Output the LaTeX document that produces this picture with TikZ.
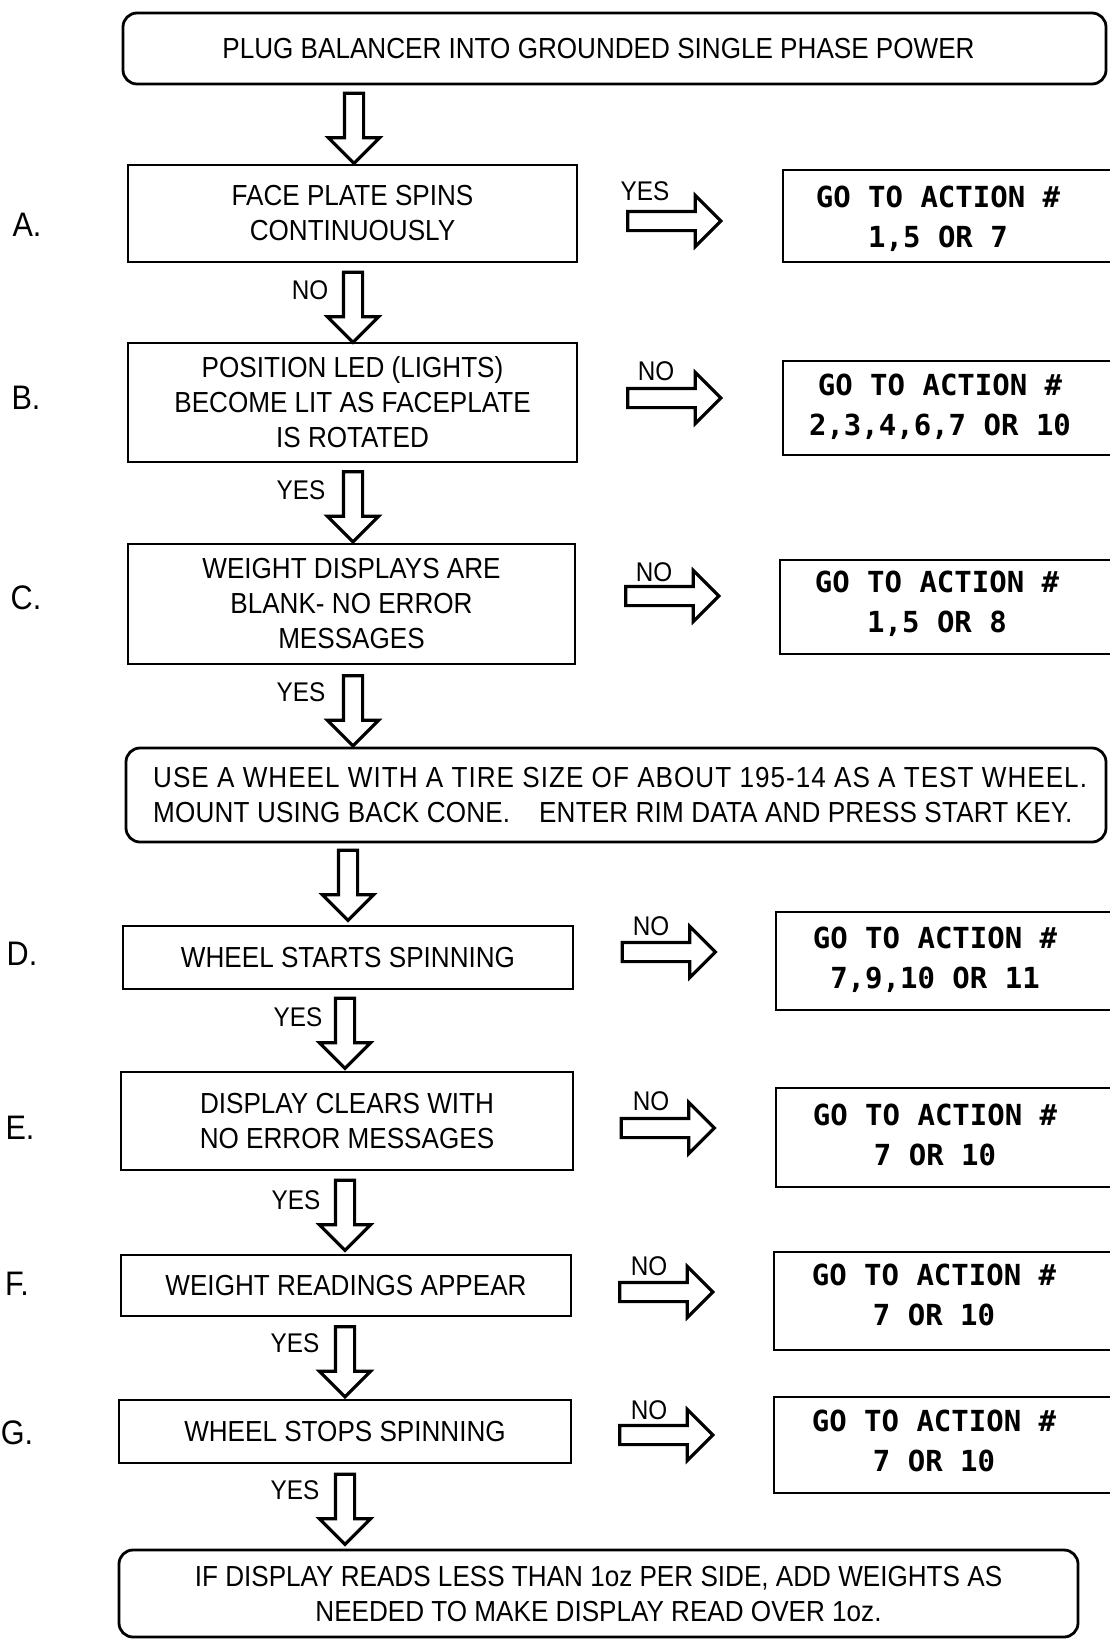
\documentclass[tikz,border=0pt]{standalone}
\usepackage{fontspec}
\setmainfont{Liberation Sans}[FakeStretch=0.9]
\newfontfamily\actfont{DejaVu Sans Mono}
\usetikzlibrary{shapes.arrows}
\begin{document}
\begin{tikzpicture}[x=1pt,y=-1pt,
  box/.style={draw, line width=2.8pt, rectangle, inner sep=0pt, align=center, font=\fontsize{29}{35}\selectfont},
  rbox/.style={box, rounded corners=14pt},
  actbox/.style={draw, line width=2.8pt, rectangle, inner sep=0pt},
  acttxt/.style={align=center, font=\actfont\bfseries\fontsize{29}{40}\selectfont, inner sep=0pt},
  plain/.style={align=left, inner sep=0pt, font=\fontsize{29}{35}\selectfont},
  blk/.style={single arrow, draw, line width=3.2pt, inner xsep=0pt, inner ysep=8pt, minimum width=49pt, single arrow head extend=16pt, single arrow head indent=0pt, minimum height=70pt},
  darr/.style={blk, rotate=-90},
  rarr/.style={blk, minimum height=93pt},
  lab/.style={font=\fontsize{27}{30}\selectfont, inner sep=0pt},
  letter/.style={font=\fontsize{34}{36}\selectfont, inner sep=0pt}
]
\useasboundingbox[fill=white] (0,0) rectangle (1109,1641);

% main column
\node[rbox, minimum width=983pt, minimum height=71pt] (top) at (614.5,48.5) {\hspace*{-32pt}PLUG BALANCER INTO GROUNDED SINGLE PHASE POWER};
\node[box, minimum width=449pt, minimum height=97pt] (A) at (352.5,213.5) {FACE PLATE SPINS\\CONTINUOUSLY};
\node[box, minimum width=449pt, minimum height=119pt] (B) at (352.5,402.5) {POSITION LED (LIGHTS)\\BECOME LIT AS FACEPLATE\\IS ROTATED};
\node[box, minimum width=447pt, minimum height=120pt] (C) at (351.5,604) {WEIGHT DISPLAYS ARE\\BLANK- NO ERROR\\MESSAGES};
\node[rbox, minimum width=980pt, minimum height=94pt] (use) at (616,795) {};
\node[plain, anchor=west] (usetxt) at (153,795) {{\addfontfeature{LetterSpace=3.5}USE A WHEEL WITH A TIRE SIZE OF ABOUT 195-14 AS A TEST WHEEL.}\\{\addfontfeature{LetterSpace=0.6}MOUNT USING BACK CONE.\quad ENTER RIM DATA AND PRESS START KEY.}};
\node[box, minimum width=450pt, minimum height=63pt] (D) at (348,957.5) {WHEEL STARTS SPINNING};
\node[box, minimum width=452pt, minimum height=98pt] (E) at (347,1121) {DISPLAY CLEARS WITH\\NO ERROR MESSAGES};
\node[box, minimum width=450pt, minimum height=61pt] (F) at (346,1285.5) {WEIGHT READINGS APPEAR};
\node[box, minimum width=452pt, minimum height=63pt] (G) at (345,1431.5) {WHEEL STOPS SPINNING};
\node[rbox, minimum width=959pt, minimum height=87pt] (bot) at (598.5,1593.5) {IF DISPLAY READS LESS THAN 1oz PER SIDE, ADD WEIGHTS AS\\NEEDED TO MAKE DISPLAY READ OVER 1oz.};

% row letters
\node[letter] (lA) at (27,225) {A.};
\node[letter] (lB) at (26,398) {B.};
\node[letter] (lC) at (26,598) {C.};
\node[letter] (lD) at (22,954) {D.};
\node[letter] (lE) at (20,1128) {E.};
\node[letter] (lF) at (17,1284) {F.};
\node[letter] (lG) at (17,1433) {G.};

% action boxes
\node[actbox, minimum width=332pt, minimum height=92pt] (RA) at (949,216) {};
\node[actbox, minimum width=332pt, minimum height=94pt] (RB) at (949,408) {};
\node[actbox, minimum width=335pt, minimum height=94pt] (RC) at (947.5,607) {};
\node[actbox, minimum width=339pt, minimum height=98pt] (RD) at (945.5,961) {};
\node[actbox, minimum width=339pt, minimum height=99pt] (RE) at (945.5,1137.5) {};
\node[actbox, minimum width=341pt, minimum height=98pt] (RF) at (944.5,1301) {};
\node[actbox, minimum width=341pt, minimum height=96pt] (RG) at (944.5,1445) {};

\node[acttxt] (tA) at (938,219) {GO TO ACTION \#\\1,5 OR 7};
\node[acttxt] (tB) at (940,407) {GO TO ACTION \#\\2,3,4,6,7 OR 10};
\node[acttxt] (tC) at (937,604) {GO TO ACTION \#\\1,5 OR 8};
\node[acttxt] (tD) at (935,959.5) {GO TO ACTION \#\\7,9,10 OR 11};
\node[acttxt] (tE) at (935,1135) {GO TO ACTION \#\\7 OR 10};
\node[acttxt] (tF) at (934,1295) {GO TO ACTION \#\\7 OR 10};
\node[acttxt] (tG) at (934,1441) {GO TO ACTION \#\\7 OR 10};

% down arrows
\node[darr] (d0) at (354,123.5) {};
\node[darr] (d1) at (353,302.5) {};
\node[darr] (d2) at (353,502) {};
\node[darr] (d3) at (353,706) {};
\node[darr] (d4) at (348,880.5) {};
\node[darr] (d5) at (345,1028.5) {};
\node[darr] (d6) at (345,1210.5) {};
\node[darr] (d7) at (345,1357) {};
\node[darr] (d8) at (345,1504.5) {};

% right arrows
\node[rarr] (r1) at (669.5,221) {};
\node[rarr] (r2) at (669.5,398) {};
\node[rarr] (r3) at (667.5,596) {};
\node[rarr] (r4) at (664,952) {};
\node[rarr] (r5) at (663,1128) {};
\node[rarr] (r6) at (661.5,1292) {};
\node[rarr] (r7) at (661.5,1435) {};

% arrow labels
\node[lab] (y1) at (645,191) {YES};
\node[lab] (n1) at (310,290) {NO};
\node[lab] (n2) at (656,371) {NO};
\node[lab] (y2) at (301,490) {YES};
\node[lab] (n3) at (654,572) {NO};
\node[lab] (y3) at (301,692) {YES};
\node[lab] (n4) at (651,926) {NO};
\node[lab] (y5) at (298,1017) {YES};
\node[lab] (n5) at (651,1101) {NO};
\node[lab] (y6) at (296,1200) {YES};
\node[lab] (n6) at (649,1266) {NO};
\node[lab] (y7) at (295,1343) {YES};
\node[lab] (n7) at (649,1410) {NO};
\node[lab] (y8) at (295,1490) {YES};
\end{tikzpicture}
\end{document}
